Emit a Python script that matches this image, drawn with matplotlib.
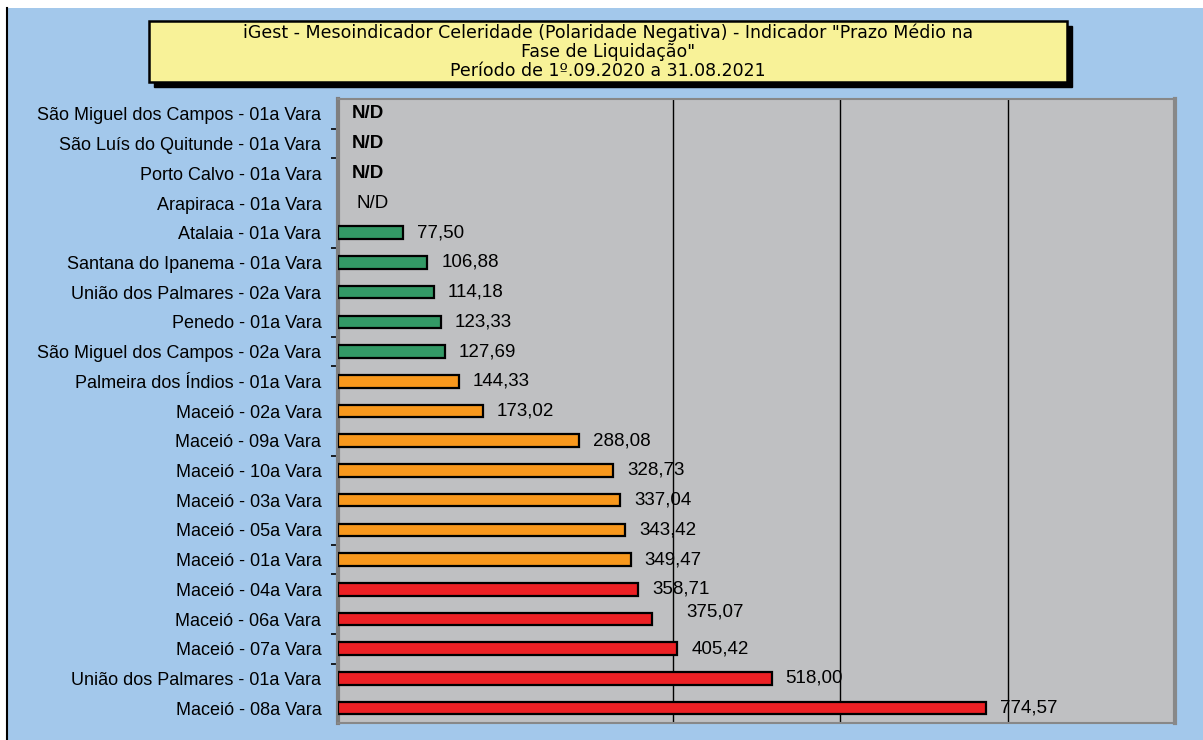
import matplotlib.pyplot as plt
from matplotlib.patches import Rectangle
from matplotlib.lines import Line2D

plt.rcParams['font.family'] = ['Liberation Sans', 'DejaVu Sans']

# dados do gráfico (de cima para baixo)
varas = [
    'São Miguel dos Campos - 01a Vara',
    'São Luís do Quitunde - 01a Vara',
    'Porto Calvo - 01a Vara',
    'Arapiraca - 01a Vara',
    'Atalaia - 01a Vara',
    'Santana do Ipanema - 01a Vara',
    'União dos Palmares - 02a Vara',
    'Penedo - 01a Vara',
    'São Miguel dos Campos - 02a Vara',
    'Palmeira dos Índios - 01a Vara',
    'Maceió - 02a Vara',
    'Maceió - 09a Vara',
    'Maceió - 10a Vara',
    'Maceió - 03a Vara',
    'Maceió - 05a Vara',
    'Maceió - 01a Vara',
    'Maceió - 04a Vara',
    'Maceió - 06a Vara',
    'Maceió - 07a Vara',
    'União dos Palmares - 01a Vara',
    'Maceió - 08a Vara',
]
prazo_medio = [None, None, None, None,
               77.50, 106.88, 114.18, 123.33, 127.69,
               144.33, 173.02, 288.08, 328.73, 337.04, 343.42, 349.47,
               358.71, 375.07, 405.42, 518.00, 774.57]
faixa = ['nd'] * 4 + ['verde'] * 5 + ['laranja'] * 7 + ['vermelho'] * 5

titulo = ['iGest - Mesoindicador Celeridade (Polaridade Negativa) - Indicador "Prazo Médio na',
          'Fase de Liquidação"',
          'Período de 1º.09.2020 a 31.08.2021']

cores = {'verde': '#339966', 'laranja': '#F8981D', 'vermelho': '#ED2024'}
azul_fundo = '#A3C8EB'
cinza_plot = '#BFC0C2'

fig = plt.figure(figsize=(12.03, 7.40), dpi=100)
fig.patch.set_facecolor('white')

# fundo azul com linha preta à esquerda
fig.patches.append(Rectangle((7 / 1203, 0), 1 - 7 / 1203, 1 - 8 / 740,
                             transform=fig.transFigure, facecolor=azul_fundo,
                             edgecolor='none', zorder=-10))
fig.lines.append(Line2D([7 / 1203, 7 / 1203], [0, 1 - 8 / 740],
                        transform=fig.transFigure, color='black', lw=1.5, zorder=-9))

# caixa do título com sombra
bx, bw = 149 / 1203, 918 / 1203
by, bh = (740 - 82) / 740, 61 / 740
fig.patches.append(Rectangle((bx + 5 / 1203, by - 5 / 740), bw, bh,
                             transform=fig.transFigure, facecolor='black',
                             edgecolor='black', zorder=1))
fig.patches.append(Rectangle((bx, by), bw, bh, transform=fig.transFigure,
                             facecolor='#F8F298', edgecolor='black', lw=1.8, zorder=2))
# fonte mais larga para aproximar a largura do título original
for linha, ypx in zip(titulo, [33, 52, 71]):
    fig.text(bx + bw / 2, 1 - ypx / 740, linha, ha='center', va='center',
             fontsize=12.5, family='DejaVu Sans', zorder=3)

ax = fig.add_axes([338 / 1203, 17 / 740, 837 / 1203, 624 / 740])
ax.set_zorder(1)
ax.set_facecolor(cinza_plot)

for i, (v, f) in enumerate(zip(prazo_medio, faixa)):
    if v is None:
        ax.annotate('N/D', xy=(0, i), xytext=(10 if i < 3 else 13, 0),
                    textcoords='offset points', va='center', ha='left',
                    fontsize=13.5, fontweight='bold' if i < 3 else 'normal')
        continue
    ax.barh(i, v, height=0.42, color=cores[f], edgecolor='black',
            linewidth=1.6, zorder=3)
    dx, dy = (25, 5) if i == 17 else (10, 0)
    ax.annotate(f'{v:.2f}'.replace('.', ','), xy=(v, i), xytext=(dx, dy),
                textcoords='offset points', va='center', ha='left',
                fontsize=13.5, zorder=4)

for g in [400, 600, 800]:
    ax.axvline(g, color='black', lw=1, zorder=2)

ax.set_xlim(0, 1000)
ax.set_ylim(len(varas) - 0.5, -0.5)
ax.set_xticks([])
ax.set_yticks(range(len(varas)))
ax.set_yticklabels(varas, fontsize=13)
ax.tick_params(axis='y', which='major', length=0, pad=12)
ax.set_yticks([0.5, 1.5, 4.5, 7.5, 8.5, 11.5, 14.5, 15.5, 17.5, 18.5], minor=True)
ax.tick_params(axis='y', which='minor', length=5, width=1.2, color='black', direction='out')

ax.spines['left'].set_color('#7F7F7F')
ax.spines['left'].set_linewidth(3)
ax.spines['right'].set_color('#888888')
ax.spines['right'].set_linewidth(3)
ax.spines['top'].set_color('#888888')
ax.spines['top'].set_linewidth(1.5)
ax.spines['bottom'].set_color('#888888')
ax.spines['bottom'].set_linewidth(1.5)

plt.savefig('out.png', dpi=100, facecolor=fig.get_facecolor())
